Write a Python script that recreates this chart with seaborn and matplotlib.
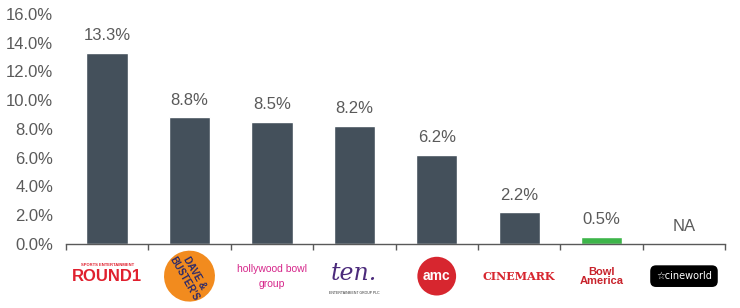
import matplotlib
matplotlib.use("Agg")
import matplotlib.pyplot as plt
import seaborn as sns
import pandas as pd

companies = ["Round1", "Dave & Buster's", "Hollywood Bowl Group", "Ten", "AMC",
             "Cinemark", "Bowl America", "Cineworld"]
values = [13.3, 8.8, 8.5, 8.2, 6.2, 2.2, 0.5, 0.0]
labels = ["13.3%", "8.8%", "8.5%", "8.2%", "6.2%", "2.2%", "0.5%", "NA"]
bar_colors = ["#44505B"] * 6 + ["#3DB54A", "#44505B"]
yticks = [0, 2, 4, 6, 8, 10, 12, 14, 16]

sns.set_theme(style="white")
plt.rcParams['font.family'] = ['Liberation Sans', 'DejaVu Sans']

fig = plt.figure(figsize=(7.4, 3.08), dpi=100)
ax = fig.add_axes([0.089, 0.208, 0.891, 0.747])

df = pd.DataFrame({"company": companies, "value": values})
sns.barplot(data=df, x="company", y="value", hue="company", palette=bar_colors,
            legend=False, width=0.5, ax=ax, saturation=1)

ax.set_ylim(0, 16)
ax.set_xlim(-0.5, len(companies) - 0.5)
ax.set_yticks(yticks)
ax.set_yticklabels([f"{v:.1f}%" for v in yticks], color="#5A5A5A", fontsize=12)
ax.tick_params(axis="y", length=0, pad=9)
ax.set_xlabel("")
ax.set_ylabel("")
ax.set_xticks([i - 0.5 for i in range(len(companies) + 1)])
ax.set_xticklabels([])
ax.tick_params(axis="x", length=4, width=1, color="#595959", direction="out", bottom=True)
for s in ["top", "right", "left"]:
    ax.spines[s].set_visible(False)
ax.spines["bottom"].set_color("#595959")
ax.spines["bottom"].set_linewidth(1)

for i, (v, lab) in enumerate(zip(values, labels)):
    ax.annotate(lab, (i, v), xytext=(0, 7), textcoords="offset points",
                ha="center", va="bottom", fontsize=12, color="#5A5A5A")

# logo-like labels under the axis
ty = -0.14
tr = ax.get_xaxis_transform()
ax.text(0, ty, "ROUND1", transform=tr, ha="center", va="center", color="#E0202E",
        fontsize=12, fontweight="bold", fontstretch="condensed", clip_on=False)
ax.text(0, ty + 0.05, "SPORTS ENTERTAINMENT", transform=tr, ha="center", va="center",
        color="#E0202E", fontsize=3, fontweight="bold", clip_on=False)
ax.text(1, ty, "DAVE &\nBUSTER'S", transform=tr, ha="center", va="center", color="#2B2A6B",
        fontsize=7, fontweight="bold", rotation=-60, clip_on=False,
        bbox=dict(boxstyle="circle,pad=0.1", fc="#F28B1E", ec="none"))
ax.text(2, ty, "hollywood bowl\ngroup", transform=tr, ha="center", va="center",
        color="#D6268A", fontsize=7.5, linespacing=1.6, clip_on=False)
ax.text(3, ty + 0.01, "ten.", transform=tr, ha="center", va="center", color="#4B2A7B",
        fontsize=17, fontstyle="italic", family="DejaVu Serif", clip_on=False)
ax.text(3, ty - 0.075, "ENTERTAINMENT GROUP PLC", transform=tr, ha="center", va="center",
        color="#333333", fontsize=2.5, clip_on=False)
ax.text(4, ty, "amc", transform=tr, ha="center", va="center", color="white",
        fontsize=10, fontweight="bold", clip_on=False,
        bbox=dict(boxstyle="circle,pad=0.4", fc="#D7262F", ec="none"))
ax.text(5, ty, "CINEMARK", transform=tr, ha="center", va="center", color="#D7262F",
        fontsize=8, fontweight="bold", family="DejaVu Serif", clip_on=False)
ax.text(6, ty, "Bowl\nAmerica", transform=tr, ha="center", va="center", color="#C8232C",
        fontsize=8, fontweight="bold", linespacing=0.9, clip_on=False)
ax.text(7, ty, "\u2606cineworld", transform=tr, ha="center", va="center", color="white",
        fontsize=7, clip_on=False, family=["DejaVu Sans"],
        bbox=dict(boxstyle="round,pad=0.6", fc="black", ec="none"))

fig.savefig("out.png", dpi=100)
